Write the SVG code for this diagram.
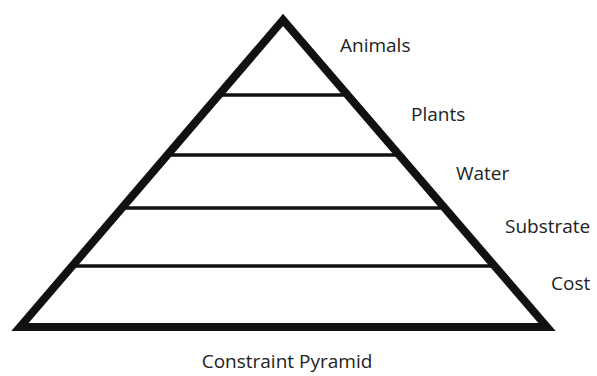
<svg xmlns="http://www.w3.org/2000/svg" width="597" height="376" viewBox="0 0 597 376">
  <style>
    .outline { fill: none; stroke: #111; stroke-width: 8; stroke-linejoin: miter; stroke-miterlimit: 10; }
    .tier { stroke: #111; stroke-width: 3.5; }
    .label { font-family: "Open Sans", "Noto Sans", sans-serif; font-size: 19px; fill: #222; }
  </style>
  <rect width="597" height="376" fill="#fff"/>
  <g id="pyramid">
    <polygon class="outline" points="283,20 20,327 547,327"/>
  </g>
  <g id="tiers">
    <line class="tier" x1="219" y1="95" x2="347" y2="95"/>
    <line class="tier" x1="168" y1="155" x2="398" y2="155"/>
    <line class="tier" x1="122" y1="208" x2="444" y2="208"/>
    <line class="tier" x1="72" y1="266" x2="494" y2="266"/>
  </g>
  <g id="labels">
    <text class="label" x="340" y="52">Animals</text>
    <text class="label" x="411" y="121">Plants</text>
    <text class="label" x="456" y="180">Water</text>
    <text class="label" x="505" y="233">Substrate</text>
    <text class="label" x="551" y="290">Cost</text>
    <text class="label" x="287" y="368" text-anchor="middle">Constraint Pyramid</text>
  </g>
</svg>
